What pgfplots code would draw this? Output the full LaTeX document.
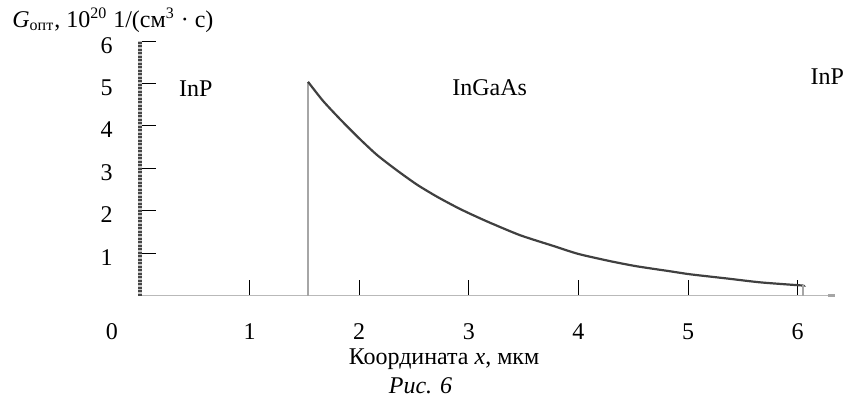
\documentclass[border=0pt]{standalone}
\usepackage{fontspec}
\setmainfont{Liberation Serif}
\usepackage{pgfplots}
\pgfplotsset{compat=1.18}
\begin{document}
\fontsize{12}{14}\selectfont
\begin{tikzpicture}
\path[use as bounding box] (0,0) rectangle (424pt,201.5pt);
\begin{axis}[
  at={(70pt,53.75pt)}, anchor=south west,
  x=54.8pt, y=21.2pt,
  xmin=0, xmax=6.33, ymin=0, ymax=6,
  axis x line=bottom, axis y line=left,
  x axis line style={draw=gray!55, line width=0.6pt, -},
  y axis line style={draw=gray!55!black, line width=2.3pt, dash pattern=on 1pt off 0.75pt, -,
    preaction={draw=gray!45, solid, line width=2.3pt}},
  xtick={1,...,6}, ytick={1,...,6},
  tick align=inside, major tick length=8pt,
  tick style={black, line width=0.5pt},
  xticklabel style={anchor=base, inner sep=0pt, yshift=-22pt},
  yticklabel style={anchor=base east, inner sep=0pt, xshift=-13.5pt, yshift=-6pt},
  /pgf/number format/assume math mode=true,
  clip=false,
]
\addplot[gray!70, line width=1.2pt] coordinates {(1.533,0) (1.533,5.04)};
\addplot[black!75, line width=1.1pt, smooth, tension=0.4] coordinates {(1.533,5.04) (1.67,4.59) (1.825,4.16) (1.99,3.73) (2.16,3.32) (2.345,2.95) (2.53,2.61) (2.71,2.33) (2.89,2.08) (3.01,1.93) (3.19,1.72) (3.47,1.42) (3.77,1.17) (4.0,0.98) (4.29,0.81) (4.53,0.69) (4.84,0.57) (5.02,0.50) (5.36,0.40) (5.66,0.31) (6.02,0.24) (6.05,0.24)};
\addplot[gray!70, line width=1.2pt] coordinates {(6.05,0.24) (6.05,0)};
\addplot[gray!70, line width=1.2pt] coordinates {(6.28,0) (6.34,0)};
\node at (axis cs:0.51,4.89) {InP};
\node at (axis cs:3.19,4.89) {InGaAs};
\node at (axis cs:6.27,5.15) {InP};
\node[anchor=base, inner sep=0pt, xshift=-14pt, yshift=-22pt] at (axis cs:0,0) {0};
\node[anchor=base, inner sep=0pt, yshift=-34.5pt] at (axis cs:2.774,0) {Координата \textit{x}, мкм};
\node[anchor=base, inner sep=0pt, yshift=-48.75pt] at (axis cs:2.56,0) {\textit{Рис. 6}};
\end{axis}
\node[anchor=base west, inner sep=0pt] at (6pt,188pt) {\textit{G}\textsubscript{опт}, 10\textsuperscript{20} 1/(см\textsuperscript{3} · с)};
\end{tikzpicture}
\end{document}
